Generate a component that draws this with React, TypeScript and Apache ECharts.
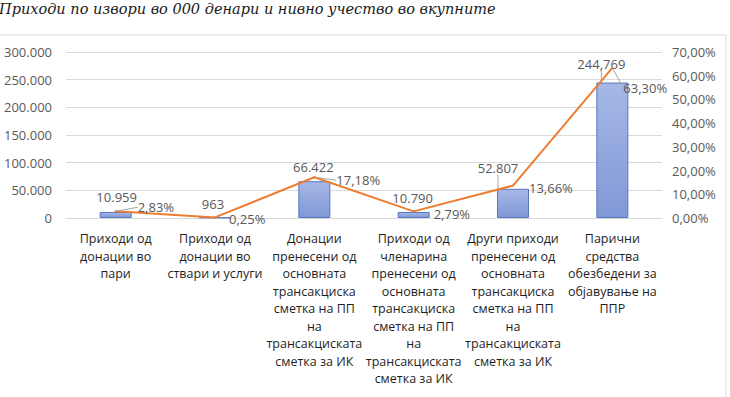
import React, { useEffect, useRef } from "react";
import * as echarts from "echarts";

const titleText = "Приходи по извори во 000 денари и нивно учество во вкупните";

const categories = [
  "Приходи од\nдонации во\nпари",
  "Приходи од\nдонации во\nствари и услуги",
  "Донации\nпренесени од\nосновната\nтрансакциска\nсметка на ПП\nна\nтрансакциската\nсметка за ИК",
  "Приходи од\nчленарина\nпренесени од\nосновната\nтрансакциска\nсметка на ПП\nна\nтрансакциската\nсметка за ИК",
  "Други приходи\nпренесени од\nосновната\nтрансакциска\nсметка на ПП\nна\nтрансакциската\nсметка за ИК",
  "Парични\nсредства\nобезбедени за\nобјавување на\nППР",
];

const amounts = [10959, 963, 66422, 10790, 52807, 244769];
const amountLabels = ["10.959", "963", "66.422", "10.790", "52.807", "244,769"];
const shares = [0.0283, 0.0025, 0.1718, 0.0279, 0.1366, 0.633];

const leftTicks = { min: 0, max: 300000, interval: 50000 };
const rightTicks = { min: 0, max: 0.7, interval: 0.1 };

// label nudges and leader-line flags (styling)
const barLabelShift = [
  [1, -3],
  [-2, -2],
  [-1, -3],
  [-1, -3],
  [-15, -9],
  [-11, -7],
];
const barLeader = [false, false, false, false, true, true];
const lineLabelShift = [
  [16, -4],
  [8, 2],
  [16, 3],
  [14, 3],
  [10, 2],
  [5, 20],
];
const lineLeader = [true, false, true, false, false, true];

const fmtThousands = (v: number) =>
  String(Math.round(v)).replace(/\B(?=(\d{3})+(?!\d))/g, ".");
const fmtPct = (v: number) => (v * 100).toFixed(2).replace(".", ",") + "%";

export default function App() {
  const ref = useRef<HTMLDivElement>(null);
  useEffect(() => {
    if (!ref.current) return;
    const chart = echarts.init(ref.current, undefined, { renderer: "svg" });
    const labelColor = "#595959";
    const font = "'Open Sans', 'Liberation Sans', sans-serif";
    const leaderStyle = { color: "#a6a6a6", width: 1 };
    chart.setOption({
      animation: false,
      textStyle: { fontFamily: font },
      graphic: [
        {
          type: "rect",
          shape: { x: -2, y: 35, width: 728, height: 400 },
          style: { fill: "none", stroke: "#d9d9d9", lineWidth: 1 },
          silent: true,
        },
        {
          type: "text",
          x: -1,
          y: 9,
          style: {
            text: titleText,
            fontStyle: "italic",
            fontSize: 14.5,
            fontFamily: "'DejaVu Serif', 'Liberation Serif', serif",
            fill: "#1a1a1a",
            verticalAlign: "middle",
            align: "left",
          },
        },
      ],
      grid: { left: 66, right: 68, top: 52, bottom: 179, containLabel: false },
      xAxis: {
        type: "category",
        data: categories,
        axisLine: { show: true, lineStyle: { color: "#d9d9d9" } },
        axisTick: { show: false },
        axisLabel: {
          interval: 0,
          color: "#1f1f1f",
          fontSize: 12.5,
          lineHeight: 17.5,
          margin: 12,
          fontFamily: font,
        },
      },
      yAxis: [
        {
          type: "value",
          ...leftTicks,
          axisLine: { show: false },
          axisTick: { show: false },
          splitLine: { lineStyle: { color: "#d9d9d9" } },
          axisLabel: {
            color: labelColor,
            fontSize: 13,
            margin: 14,
            formatter: (v: number) => fmtThousands(v),
          },
        },
        {
          type: "value",
          ...rightTicks,
          axisLine: { show: false },
          axisTick: { show: false },
          splitLine: { show: false },
          axisLabel: {
            color: labelColor,
            fontSize: 13,
            margin: 10,
            formatter: (v: number) => fmtPct(v),
          },
        },
      ],
      series: [
        {
          type: "bar",
          yAxisIndex: 0,
          data: amounts.map((v, i) => ({
            value: v,
            labelLine: { show: barLeader[i], lineStyle: leaderStyle },
          })),
          barWidth: 32,
          itemStyle: {
            color: new echarts.graphic.LinearGradient(0, 0, 0, 1, [
              { offset: 0, color: "#a6b8e6" },
              { offset: 1, color: "#8098d6" },
            ]),
            borderColor: "#5676c4",
            borderWidth: 1,
          },
          label: {
            show: true,
            position: "top",
            color: labelColor,
            fontSize: 13,
            formatter: (p: any) => amountLabels[p.dataIndex],
          },
          labelLayout: (p: any) => ({
            dx: barLabelShift[p.dataIndex][0],
            dy: barLabelShift[p.dataIndex][1],
          }),
        },
        {
          type: "line",
          yAxisIndex: 1,
          data: shares.map((v, i) => ({
            value: v,
            labelLine: { show: lineLeader[i], lineStyle: leaderStyle },
          })),
          showSymbol: true,
          symbol: "circle",
          symbolSize: 2,
          lineStyle: { color: "#ed7d31", width: 2 },
          itemStyle: { color: "#ed7d31" },
          label: {
            show: true,
            position: "right",
            distance: 5,
            color: labelColor,
            fontSize: 13,
            formatter: (p: any) => fmtPct(shares[p.dataIndex]),
          },
          labelLayout: (p: any) => ({
            dx: lineLabelShift[p.dataIndex][0],
            dy: lineLabelShift[p.dataIndex][1],
          }),
          z: 5,
        },
      ],
    });
    return () => chart.dispose();
  }, []);
  return (
    <div
      ref={ref}
      style={{ position: "absolute", left: 0, top: 0, width: 730, height: 397 }}
    />
  );
}
